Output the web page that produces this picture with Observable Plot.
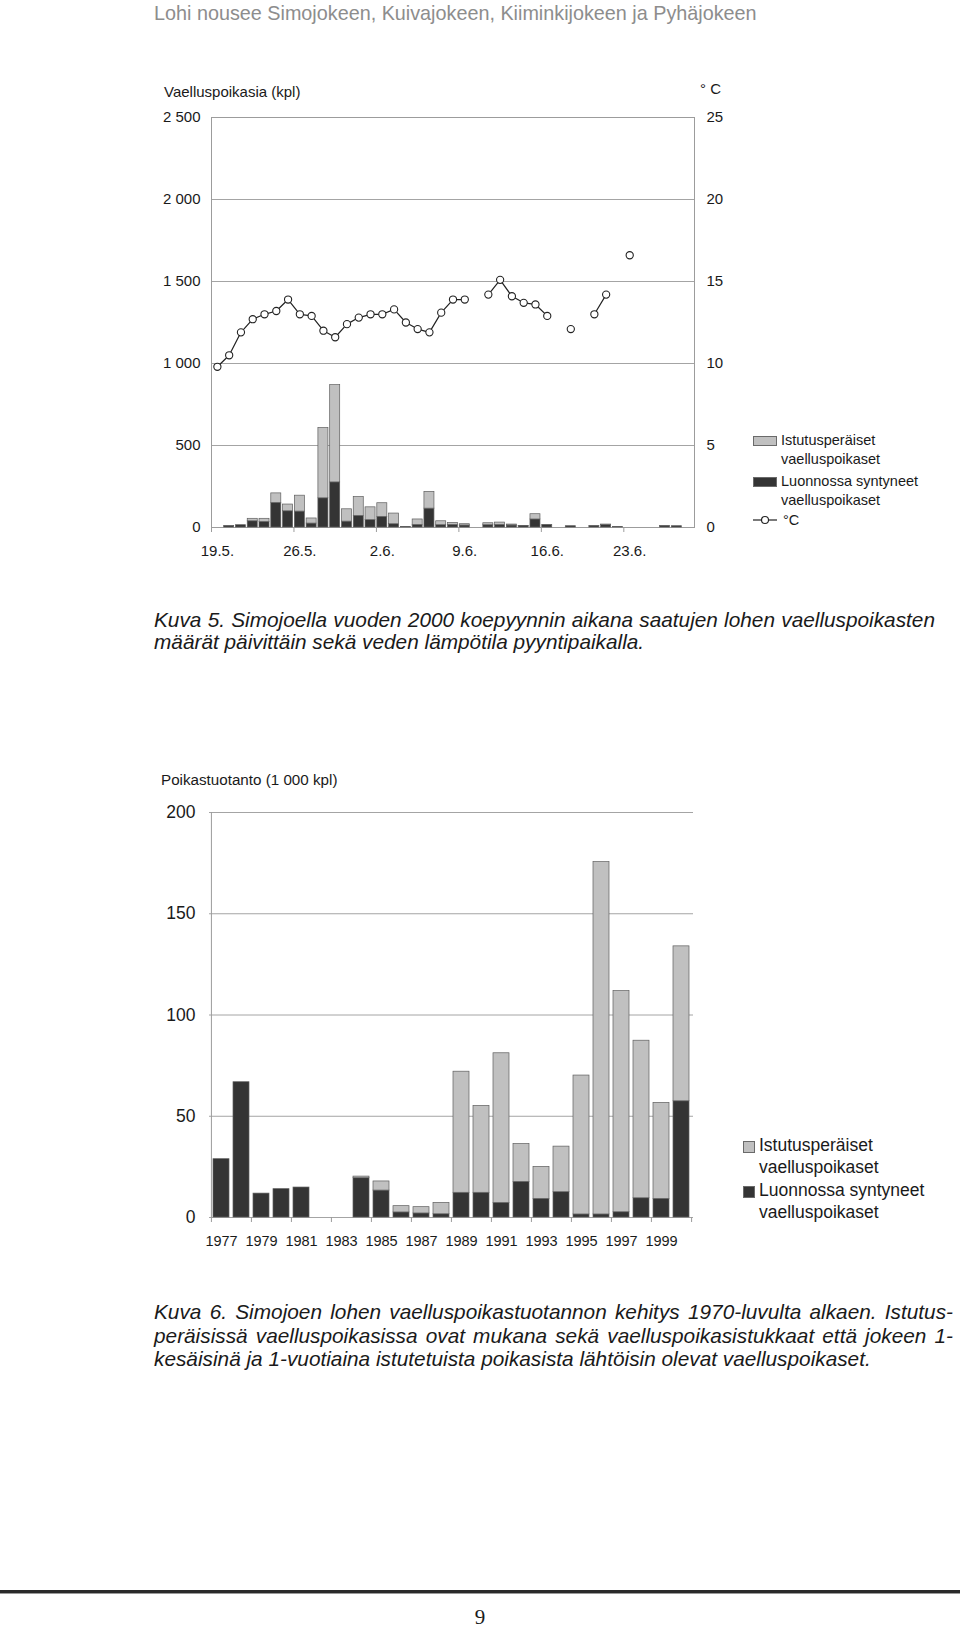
<!DOCTYPE html>
<html>
<head>
<meta charset="utf-8">
<script src="https://cdn.jsdelivr.net/npm/d3@7"></script>
<script src="https://cdn.jsdelivr.net/npm/@observablehq/plot@0.6"></script>
<style>
  body { margin: 0; background: #fff; }
  #page { position: relative; width: 960px; height: 1630px; overflow: hidden;
          font-family: "Liberation Sans", Arial, Helvetica, sans-serif; color: #1a1a1a; background: #fff; }
  .abs { position: absolute; white-space: nowrap; }
  .chart { position: absolute; left: 0; }
  .cap { position: absolute; left: 154px; font-style: italic; font-size: 20.8px; white-space: nowrap; }
  .just { text-align: justify; text-align-last: justify; }
  .sw { position: absolute; box-sizing: border-box; border: 1px solid #6a6a6a; }
</style>
</head>
<body>
<div id="page">
  <div class="abs" style="left:154px; top:1px; font-size:19.8px; line-height:24px; color:#8d8d8d;">Lohi nousee Simojokeen, Kuivajokeen, Kiiminkijokeen ja Pyhäjokeen</div>

  <div class="abs" style="left:164px; top:83px; font-size:15px; line-height:18px;">Vaelluspoikasia (kpl)</div>
  <div class="abs" style="left:700px; top:80px; font-size:15px; line-height:18px;">° C</div>
  <div id="chart1" class="chart" style="top:60px;"></div>

  <!-- legend 1 -->
  <div class="sw" style="left:753px; top:436px; width:24px; height:10px; background:#c0c0c0;"></div>
  <div class="abs" style="left:781px; top:431px; font-size:14.5px; line-height:18.5px;">Istutusperäiset<br>vaelluspoikaset</div>
  <div class="sw" style="left:753px; top:477px; width:24px; height:10px; background:#343434;"></div>
  <div class="abs" style="left:781px; top:472px; font-size:14.5px; line-height:18.5px;">Luonnossa syntyneet<br>vaelluspoikaset</div>
  <svg class="abs" style="left:750px; top:512px;" width="32" height="16">
    <line x1="3" y1="8" x2="27" y2="8" stroke="#222" stroke-width="1.2"></line>
    <circle cx="15" cy="8" r="3.5" fill="#fff" stroke="#222" stroke-width="1.1"></circle>
  </svg>
  <div class="abs" style="left:783px; top:511px; font-size:14.5px; line-height:18px;">°C</div>

  <div class="cap just" style="top:609px; width:781px; line-height:22px;">Kuva 5. Simojoella vuoden 2000 koepyynnin aikana saatujen lohen vaelluspoikasten</div>
  <div class="cap" style="top:631px; line-height:22px;">määrät päivittäin sekä veden lämpötila pyyntipaikalla.</div>

  <div class="abs" style="left:161px; top:770px; font-size:15.2px; line-height:20px;">Poikastuotanto (1 000 kpl)</div>
  <div id="chart2" class="chart" style="top:790px;"></div>

  <!-- legend 2 -->
  <div class="sw" style="left:743px; top:1141px; width:12px; height:12px; background:#c0c0c0;"></div>
  <div class="abs" style="left:759px; top:1135px; font-size:17.5px; line-height:21.5px;">Istutusperäiset<br>vaelluspoikaset</div>
  <div class="sw" style="left:743px; top:1186px; width:12px; height:12px; background:#343434;"></div>
  <div class="abs" style="left:759px; top:1180px; font-size:17.5px; line-height:21.5px;">Luonnossa syntyneet<br>vaelluspoikaset</div>

  <div class="cap just" style="top:1300px; width:799px; line-height:23.5px;">Kuva 6. Simojoen lohen vaelluspoikastuotannon kehitys 1970-luvulta alkaen. Istutus-</div>
  <div class="cap just" style="top:1323.5px; width:799px; line-height:23.5px;">peräisissä vaelluspoikasissa ovat mukana sekä vaelluspoikasistukkaat että jokeen 1-</div>
  <div class="cap" style="top:1347px; line-height:23.5px;">kesäisinä ja 1-vuotiaina istutetuista poikasista lähtöisin olevat vaelluspoikaset.</div>

  <div class="abs" style="left:0; top:1590px; width:960px; height:2.5px; background:#2a2a2a;"></div>
  <div class="abs" style="left:0; top:1592.5px; width:960px; height:1px; background:#9a9a9a;"></div>
  <div class="abs" style="left:0; width:960px; top:1607px; text-align:center; font-family:'Liberation Serif','Times New Roman',serif; font-size:21px; line-height:21px;">9</div>
</div>

<script>
// ---------- Kuva 5: daily counts 19.5.–28.6.2000 ----------
const days = ["19.5.","20.5.","21.5.","22.5.","23.5.","24.5.","25.5.","26.5.","27.5.","28.5.",
  "29.5.","30.5.","31.5.","1.6.","2.6.","3.6.","4.6.","5.6.","6.6.","7.6.",
  "8.6.","9.6.","10.6.","11.6.","12.6.","13.6.","14.6.","15.6.","16.6.","17.6.",
  "18.6.","19.6.","20.6.","21.6.","22.6.","23.6.","24.6.","25.6.","26.6.","27.6.","28.6."];
const dayTickLabels = ["19.5.","26.5.","2.6.","9.6.","16.6.","23.6."];
const countTicks = [0, 500, 1000, 1500, 2000, 2500];
const tempTicks = [0, 5, 10, 15, 20, 25];
const wildDaily = [0,10,14,38,34,150,99,97,24,178,
  275,36,71,45,65,20,3,16,115,14,
  16,12,0,14,16,12,8,49,16,0,
  8,0,10,16,3,0,0,0,10,8,0];
const stockedDaily = [0,0,0,15,19,58,41,97,31,429,
  593,75,115,78,83,65,0,33,102,24,
  12,8,0,12,14,6,2,32,0,0,
  0,0,0,2,0,0,0,0,0,0,0];
const waterTemp = [9.8,10.5,11.9,12.7,13.0,13.2,13.9,13.0,12.9,12.0,
  11.6,12.4,12.8,13.0,13.0,13.3,12.5,12.1,11.9,13.1,
  13.9,13.9,null,14.2,15.1,14.1,13.7,13.6,12.9,null,
  12.1,null,13.0,14.2,null,16.6,null,null,null,null,null];

// ---------- Kuva 6: yearly production 1977–2000 (1 000 kpl) ----------
const years = [1977,1978,1979,1980,1981,1982,1983,1984,1985,1986,1987,1988,
  1989,1990,1991,1992,1993,1994,1995,1996,1997,1998,1999,2000];
const yearTickLabels = [1977,1979,1981,1983,1985,1987,1989,1991,1993,1995,1997,1999];
const prodTicks = [0, 50, 100, 150, 200];
const wildYearly = [28.8,66.8,11.8,14.0,14.8,0,0,19.4,13.3,2.5,2.0,1.6,
  12.2,12.2,7.2,17.6,9.2,12.5,1.5,1.5,2.6,9.5,9.2,57.4];
const stockedYearly = [0,0,0,0,0,0,0,0.8,4.5,3.1,3.1,5.6,
  59.8,42.9,73.9,18.7,15.8,22.5,68.6,174.0,109.2,77.8,47.4,76.5];

const seriesNames = ["Luonnossa syntyneet vaelluspoikaset", "Istutusperäiset vaelluspoikaset"];
const seriesColors = ["#343434", "#c0c0c0"];

const fmt = d3.formatLocale({decimal: ",", thousands: "\u00a0", grouping: [3], currency: ["", ""]}).format(",d");
const font = "'Liberation Sans', Arial, Helvetica, sans-serif";

// ---------- chart 1 ----------
{
  const W = 960, H = 510, mL = 211, mR = 266, mT = 57, mB = 43;
  const step = (W - mL - mR) / days.length;
  const rows = [];
  days.forEach((d, i) => { if (wildDaily[i] > 0) rows.push({day: d, series: seriesNames[0], value: wildDaily[i]}); });
  days.forEach((d, i) => { if (stockedDaily[i] > 0) rows.push({day: d, series: seriesNames[1], value: stockedDaily[i]}); });
  const countMax = countTicks[countTicks.length - 1], tempMax = tempTicks[tempTicks.length - 1];
  const k = countMax / tempMax;
  const temps = days.map((d, i) => ({day: d, t: waterTemp[i]}));
  const chart = Plot.plot({
    width: W, height: H, marginLeft: mL, marginRight: mR, marginTop: mT, marginBottom: mB,
    style: {fontFamily: font, fontSize: "15px", color: "#1a1a1a", background: "transparent", overflow: "visible"},
    x: {type: "band", domain: days, paddingInner: 0.15, paddingOuter: 0.075, axis: null},
    y: {domain: [0, countMax], axis: null},
    color: {domain: seriesNames, range: seriesColors},
    marks: [
      Plot.ruleY(countTicks, {y: d => d, stroke: "#a4a4a4", strokeWidth: 1}),
      Plot.frame({stroke: "#9c9c9c", strokeWidth: 1}),
      Plot.barY(rows, {x: "day", y: "value", fill: "series", stroke: "#5e5e5e", strokeWidth: 0.7}),
      Plot.ruleX(dayTickLabels, {x: d => d, y1: 0, y2: 0, insetBottom: -5, dx: -step / 2, stroke: "#9c9c9c"}),
      Plot.line(temps, {x: "day", y: d => d.t == null ? NaN : d.t * k, stroke: "#222", strokeWidth: 1.2}),
      Plot.dot(temps.filter(d => d.t != null), {x: "day", y: d => d.t * k, r: 3.6, fill: "white", stroke: "#222", strokeWidth: 1.1}),
      Plot.text(countTicks, {y: d => d, text: d => fmt(d), frameAnchor: "left", textAnchor: "end", dx: -11, fontSize: 15, fill: "#1a1a1a"}),
      Plot.text(tempTicks, {y: d => d * k, text: d => String(d), frameAnchor: "right", textAnchor: "start", dx: 12, fontSize: 15, fill: "#1a1a1a"}),
      Plot.text(dayTickLabels, {x: d => d, text: d => d, frameAnchor: "bottom", dy: 28.5, fontSize: 15, fill: "#1a1a1a"})
    ]
  });
  document.getElementById("chart1").appendChild(chart);
}

// ---------- chart 2 ----------
{
  const W = 960, H = 470, mL = 209, mR = 267, mT = 22, mB = 43;
  const step = (W - mL - mR) / years.length;
  const rows = [];
  years.forEach((y, i) => { if (wildYearly[i] > 0) rows.push({year: y, series: seriesNames[0], value: wildYearly[i]}); });
  years.forEach((y, i) => { if (stockedYearly[i] > 0) rows.push({year: y, series: seriesNames[1], value: stockedYearly[i]}); });
  const yMax = prodTicks[prodTicks.length - 1];
  const chart = Plot.plot({
    width: W, height: H, marginLeft: mL, marginRight: mR, marginTop: mT, marginBottom: mB,
    style: {fontFamily: font, fontSize: "15px", color: "#1a1a1a", background: "transparent", overflow: "visible"},
    x: {type: "band", domain: years, paddingInner: 0.19, paddingOuter: 0.095, axis: null},
    y: {domain: [0, yMax], axis: null},
    color: {domain: seriesNames, range: seriesColors},
    marks: [
      Plot.ruleY(prodTicks, {y: d => d, stroke: "#a4a4a4", strokeWidth: 1}),
      Plot.ruleX([years[0]], {x: d => d, y1: 0, y2: yMax, dx: -step / 2, stroke: "#9c9c9c"}),
      Plot.barY(rows, {x: "year", y: "value", fill: "series", stroke: "#5e5e5e", strokeWidth: 0.7}),
      Plot.ruleX(yearTickLabels, {x: d => d, y1: 0, y2: 0, insetBottom: -5, dx: -step / 2, stroke: "#9c9c9c"}),
      Plot.ruleX([years[years.length - 1]], {x: d => d, y1: 0, y2: 0, insetBottom: -5, dx: step / 2, stroke: "#9c9c9c"}),
      Plot.text(prodTicks, {y: d => d, text: d => String(d), frameAnchor: "left", textAnchor: "end", dx: -14, fontSize: 17.5, fill: "#1a1a1a"}),
      Plot.text(yearTickLabels, {x: d => d, text: d => String(d), frameAnchor: "bottom", dy: 28.5, fontSize: 14.5, fill: "#1a1a1a"})
    ]
  });
  document.getElementById("chart2").appendChild(chart);
}
</script>
</body>
</html>
